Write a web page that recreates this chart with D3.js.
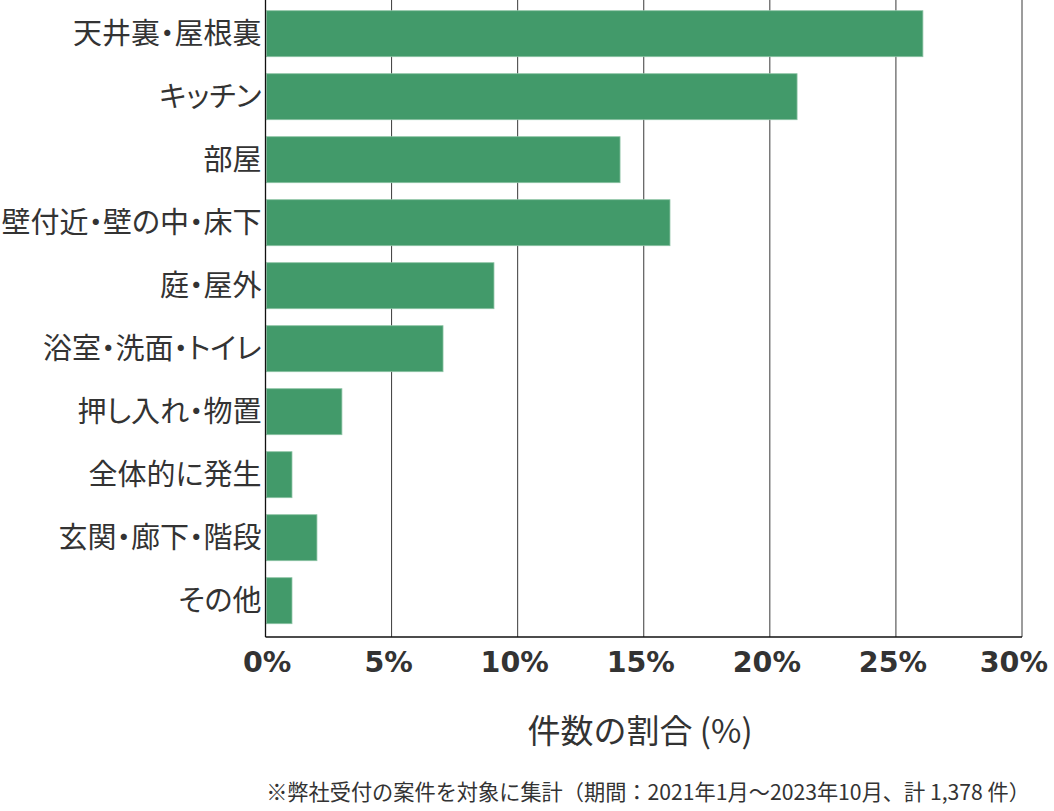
<!DOCTYPE html>
<html>
<head>
<meta charset="utf-8">
<script src="https://cdn.jsdelivr.net/npm/d3@7"></script>
<style>
  body { margin: 0; background: #fff; }
  svg text { fill: #333; }
</style>
</head>
<body>
<svg id="chart" width="1054" height="811"></svg>
<script>
const categories = ['天井裏・屋根裏', 'キッチン', '部屋', '壁付近・壁の中・床下', '庭・屋外',
                    '浴室・洗面・トイレ', '押し入れ・物置', '全体的に発生', '玄関・廊下・階段', 'その他']
const shares = [26.07, 21.08, 14.06, 16.04, 9.06, 7.04, 3.03, 1.05, 2.04, 1.05]
const tickValues = [0, 5, 10, 15, 20, 25, 30]

const plotLeft = 265.5, plotRight = 1022, plotTop = 0, plotBottom = 637
const jpFont = '"Noto Sans CJK JP", "Noto Sans", sans-serif'

const svg = d3.select('#chart')

const x = d3.scaleLinear().domain([0, 30]).range([plotLeft, plotRight])
const y = d3.scaleBand().domain(categories).range([2.2, 632.2])
            .paddingInner(0.27).paddingOuter(0.135)

// grid lines
svg.append('g')
   .selectAll('line')
   .data(tickValues.slice(1))
   .enter()
   .append('line')
   .attr('x1', d => x(d)).attr('x2', d => x(d))
   .attr('y1', plotTop).attr('y2', plotBottom)
   .attr('stroke', '#3a3a3a')
   .attr('stroke-width', 1)

// bars
svg.append('g')
   .selectAll('rect')
   .data(categories)
   .enter()
   .append('rect')
   .attr('x', x(0) + 1)
   .attr('y', d => y(d))
   .attr('width', (d, i) => x(shares[i]) - x(0) - 1)
   .attr('height', y.bandwidth())
   .attr('fill', '#429a6a')
   .attr('stroke', '#8cc3a4')
   .attr('stroke-width', 0.8)

// axes lines
svg.append('line')
   .attr('x1', plotLeft).attr('x2', plotLeft)
   .attr('y1', plotTop).attr('y2', plotBottom)
   .attr('stroke', '#111').attr('stroke-width', 1.3)
svg.append('line')
   .attr('x1', plotLeft).attr('x2', plotRight)
   .attr('y1', plotBottom).attr('y2', plotBottom)
   .attr('stroke', '#111').attr('stroke-width', 1.3)

// category labels
svg.append('g')
   .selectAll('text')
   .data(categories)
   .enter()
   .append('text')
   .attr('x', plotLeft - 4)
   .attr('y', d => y(d) + y.bandwidth() / 2)
   .attr('dy', '0.36em')
   .style('font-family', jpFont)
   .style('font-size', '29px')
   .style('font-weight', 400)
   .style('font-feature-settings', '"palt"')
   .style('text-anchor', 'end')
   .text(d => d)

// tick labels (kept inside the page at both ends)
svg.append('g')
   .selectAll('text')
   .data(tickValues)
   .enter()
   .append('text')
   .attr('y', 672)
   .style('font-family', '"DejaVu Sans", sans-serif')
   .style('font-size', '28.5px')
   .style('font-weight', 'bold')
   .style('text-anchor', 'middle')
   .text(d => d + '%')
   .attr('x', function(d) {
      const half = this.getComputedTextLength() / 2
      return Math.max(243 + half, Math.min(1048 - half, x(d) - 3))
   })

// axis title
svg.append('text')
   .attr('x', 640)
   .attr('y', 743)
   .style('font-family', jpFont)
   .style('font-size', '33px')
   .style('text-anchor', 'middle')
   .text('件数の割合 (%)')

// footnote
svg.append('text')
   .attr('x', 1030)
   .attr('y', 800)
   .style('font-family', jpFont)
   .style('font-size', '21.2px')
   .style('text-anchor', 'end')
   .text('※弊社受付の案件を対象に集計（期間：2021年1月～2023年10月、計 1,378 件）')
</script>
</body>
</html>
